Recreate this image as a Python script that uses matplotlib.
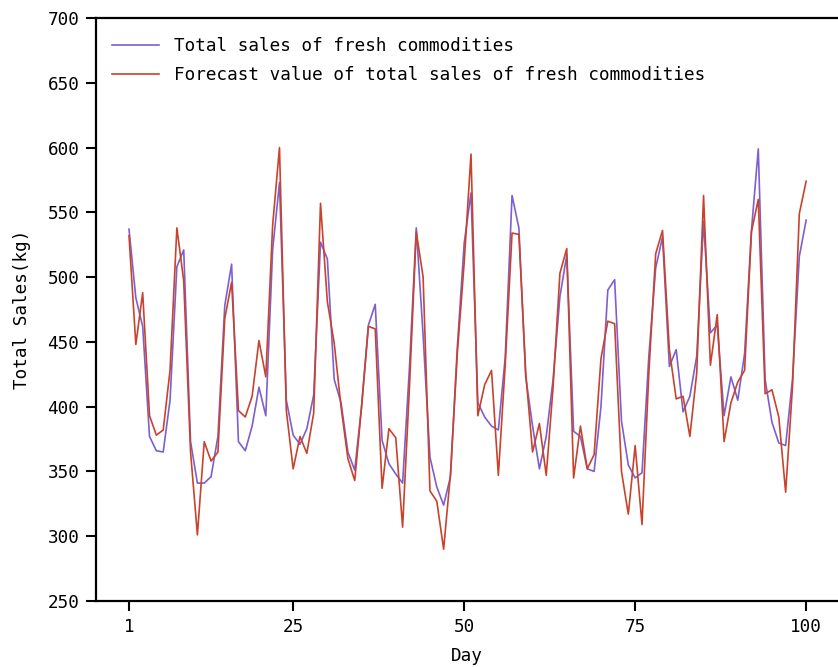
import numpy as np
import matplotlib
matplotlib.use("Agg")
import matplotlib.pyplot as plt

days = np.arange(1, 101)

actual_sales = [
    537, 484, 462, 377, 366, 365, 405, 508, 521, 373,
    341, 341, 346, 377, 478, 510, 373, 366, 385, 415,
    393, 521, 573, 405, 378, 371, 383, 409, 527, 514,
    421, 403, 365, 351, 400, 463, 479, 374, 356, 348,
    341, 430, 538, 455, 361, 338, 324, 346, 446, 526,
    565, 403, 392, 385, 382, 438, 563, 538, 423, 385,
    352, 377, 421, 485, 517, 381, 377, 352, 350, 400,
    490, 498, 389, 355, 345, 349, 439, 507, 531, 431,
    444, 396, 408, 439, 543, 457, 463, 393, 423, 405,
    441, 536, 599, 421, 388, 372, 370, 421, 516, 544,
]

forecast_sales = [
    532, 448, 488, 393, 378, 382, 428, 538, 497, 365,
    301, 373, 358, 365, 468, 496, 397, 392, 408, 451,
    423, 540, 600, 397, 352, 377, 364, 395, 557, 481,
    449, 400, 360, 343, 400, 462, 460, 337, 383, 376,
    307, 415, 535, 500, 335, 327, 290, 348, 441, 511,
    595, 393, 417, 428, 347, 432, 534, 533, 426, 365,
    387, 347, 415, 503, 522, 345, 385, 352, 363, 437,
    466, 464, 350, 317, 370, 309, 426, 518, 536, 444,
    406, 408, 377, 426, 563, 432, 471, 373, 403, 419,
    428, 535, 560, 410, 413, 392, 334, 415, 549, 574,
]

x_ticks = [1, 25, 50, 75, 100]
y_ticks = [250, 300, 350, 400, 450, 500, 550, 600, 650, 700]

label_actual = "Total sales of fresh commodities"
label_forecast = "Forecast value of total sales of fresh commodities"

plt.rcParams['font.family'] = ['DejaVu Sans Mono', 'DejaVu Sans']
FS = 12.7

fig = plt.figure(figsize=(8.38, 6.67), dpi=100)
ax = fig.add_axes([96/838, 66/667, 1 - 96/838, (601-18)/667])

ax.plot(days, actual_sales, color='#7D5FD0', lw=1.2, label=label_actual)
ax.plot(days, forecast_sales, color='#C8432D', lw=1.2, label=label_forecast)

ax.set_xlim(1 + (96-129)/6.84, 1 + (838-129)/6.84)
ax.set_ylim(250, 700)
ax.set_xticks(x_ticks)
ax.set_yticks(y_ticks)
ax.tick_params(axis='both', labelsize=FS, length=7, width=1.5, pad=5)
for s in ['left', 'bottom', 'top']:
    ax.spines[s].set_linewidth(1.6)
ax.spines['right'].set_visible(False)

ax.set_xlabel('Day', fontsize=FS, labelpad=8)
ax.set_ylabel('Total Sales(kg)', fontsize=FS, labelpad=12)

ax.legend(loc='upper left', frameon=False, fontsize=FS, handlelength=2.65,
          handletextpad=0.85, labelspacing=0.66, bbox_to_anchor=(0.0, 0.995))

fig.savefig('out.png', dpi=100)
